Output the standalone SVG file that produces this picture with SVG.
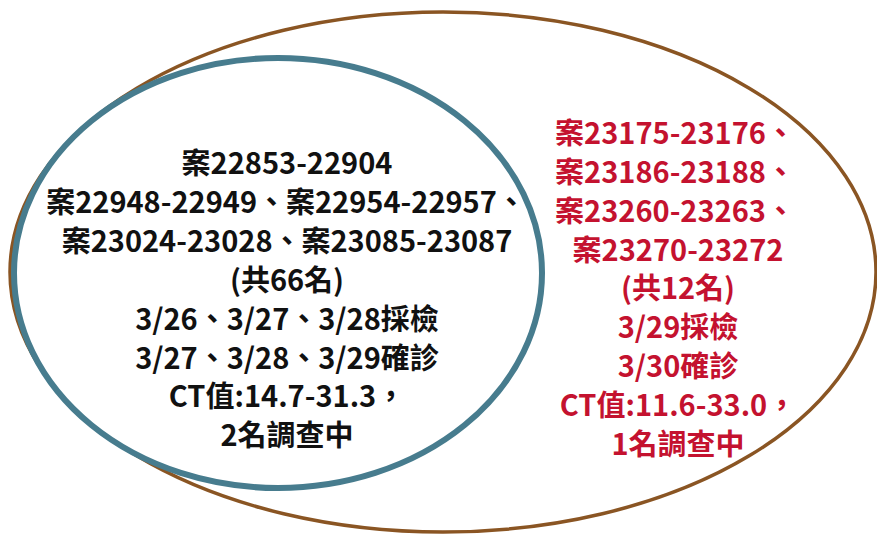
<svg xmlns="http://www.w3.org/2000/svg" width="877" height="536" viewBox="0 0 877 536">
<style>
.t{font-family:"Noto Sans CJK TC","Noto Sans CJK SC",sans-serif;font-weight:bold;font-size:29px;text-anchor:middle}
.k{fill:#111}
.r{fill:#C4122F}
</style>
<rect width="877" height="536" fill="#fff"/>
<g id="outer">
<ellipse cx="443" cy="272" rx="433" ry="260" fill="none" stroke="#8A5523" stroke-width="3.5"/>
</g>
<g id="inner">
<ellipse cx="278" cy="273" rx="264" ry="215" fill="#fff" stroke="#477C8E" stroke-width="6"/>
</g>
<g id="inner-text" class="t k">
<text x="287" y="174">案22853-22904</text>
<text x="286" y="213">案22948-22949、案22954-22957、</text>
<text x="287" y="252">案23024-23028、案23085-23087</text>
<text x="287" y="291">(共66名)</text>
<text x="287" y="330">3/26、3/27、3/28採檢</text>
<text x="287" y="369">3/27、3/28、3/29確診</text>
<text x="287" y="407">CT值:14.7-31.3，</text>
<text x="287" y="446">2名調查中</text>
</g>
<g id="outer-text" class="t r">
<text x="675" y="144">案23175-23176、</text>
<text x="675" y="183">案23186-23188、</text>
<text x="675" y="222">案23260-23263、</text>
<text x="678" y="261">案23270-23272</text>
<text x="678" y="299">(共12名)</text>
<text x="678" y="338">3/29採檢</text>
<text x="678" y="377">3/30確診</text>
<text x="678" y="416">CT值:11.6-33.0，</text>
<text x="678" y="455">1名調查中</text>
</g>
</svg>
